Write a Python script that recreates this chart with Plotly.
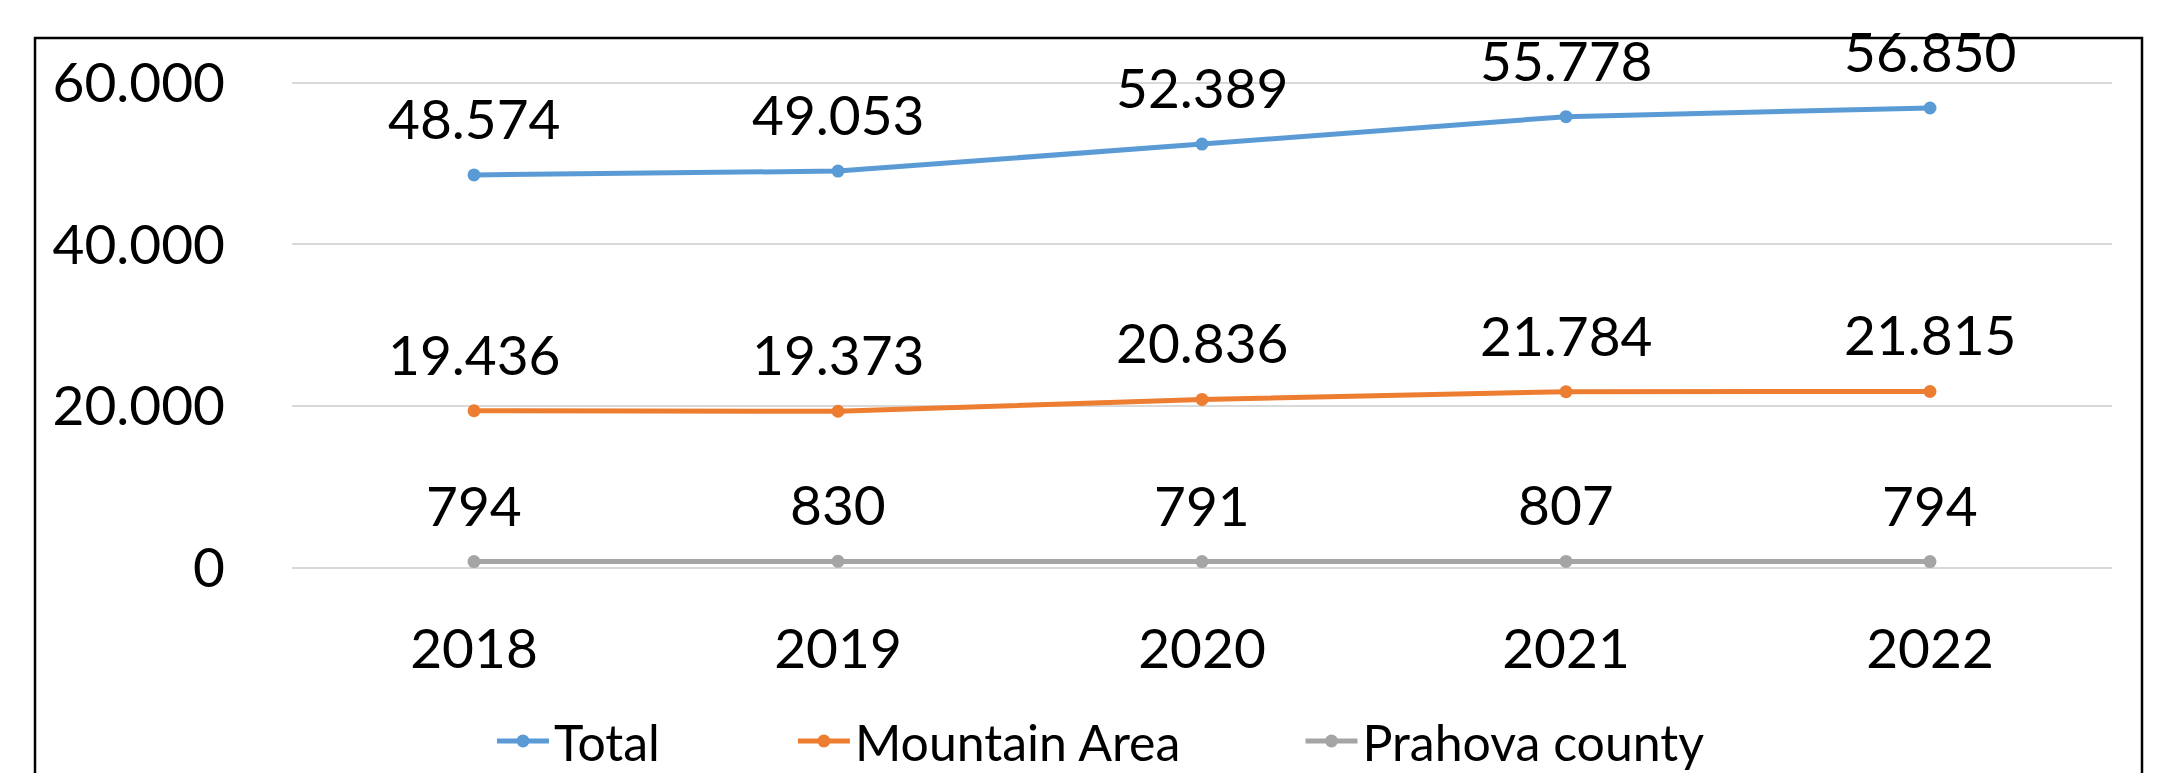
import plotly.graph_objects as go

years = ["2018", "2019", "2020", "2021", "2022"]
total = [48574, 49053, 52389, 55778, 56850]
mountain = [19436, 19373, 20836, 21784, 21815]
prahova = [794, 830, 791, 807, 794]
y_ticks = [0, 20000, 40000, 60000]

series = [
    ("Total", total, "#5B9BD5"),
    ("Mountain Area", mountain, "#ED7D31"),
    ("Prahova county", prahova, "#A5A5A5"),
]
legend_pad = [10, 9, 0]

FONT = "Lato"
W, H = 2184, 773
L, R, T, B = 284, 80, 73, 213
pw = W - L - R
ph = H - T - B


def fmt(v):
    return f"{v:,}".replace(",", ".")


fig = go.Figure()
annotations = []
NB = "\u00a0"
for k, (name, vals, color) in enumerate(series):
    fig.add_trace(go.Scatter(
        x=years, y=vals, name=name + NB * legend_pad[k], mode="lines+markers",
        line=dict(color=color, width=5),
        marker=dict(color=color, size=13),
        cliponaxis=False,
    ))
    for i, v in enumerate(vals):
        annotations.append(dict(
            x=i, y=v, xref="x", yref="y", text=fmt(v), showarrow=False,
            yanchor="bottom", yshift=22,
            font=dict(family=FONT, size=55, color="black"),
        ))


def px_x(p):
    return (p - L) / pw


def px_y(p):
    return (H - B - p) / ph


# chart-area border (extends beyond the bottom of the picture)
fig.add_shape(type="rect", xref="paper", yref="paper",
              x0=px_x(27), x1=px_x(2134), y0=px_y(830), y1=px_y(30),
              line=dict(color="black", width=2.5), fillcolor="rgba(0,0,0,0)",
              layer="below")

fig.update_layout(
    width=W, height=H,
    margin=dict(l=L, r=R, t=T, b=B, autoexpand=False),
    paper_bgcolor="white", plot_bgcolor="white",
    separators=",.",
    font=dict(family=FONT, size=55, color="black"),
    annotations=annotations,
    showlegend=True,
    legend=dict(orientation="h", xanchor="left", x=px_x(484),
                yanchor="middle", y=px_y(733),
                font=dict(family=FONT, size=50, color="black"),
                itemwidth=52, bgcolor="rgba(0,0,0,0)"),
)
fig.update_xaxes(type="category", range=[-0.5, 4.5], showgrid=False,
                 showline=False, zeroline=False, ticks="",
                 ticklabelstandoff=44,
                 tickfont=dict(family=FONT, size=55, color="black"))
fig.update_yaxes(range=[0, 60000 * (1 + 1.5 / ph)], tickvals=y_ticks,
                 tickformat=",d",
                 showgrid=True, gridcolor="#D9D9D9", gridwidth=2,
                 zeroline=True, zerolinecolor="#D9D9D9", zerolinewidth=2,
                 showline=False, ticks="", ticklabelstandoff=66,
                 tickfont=dict(family=FONT, size=55, color="black"))

fig.write_html("out.html")
